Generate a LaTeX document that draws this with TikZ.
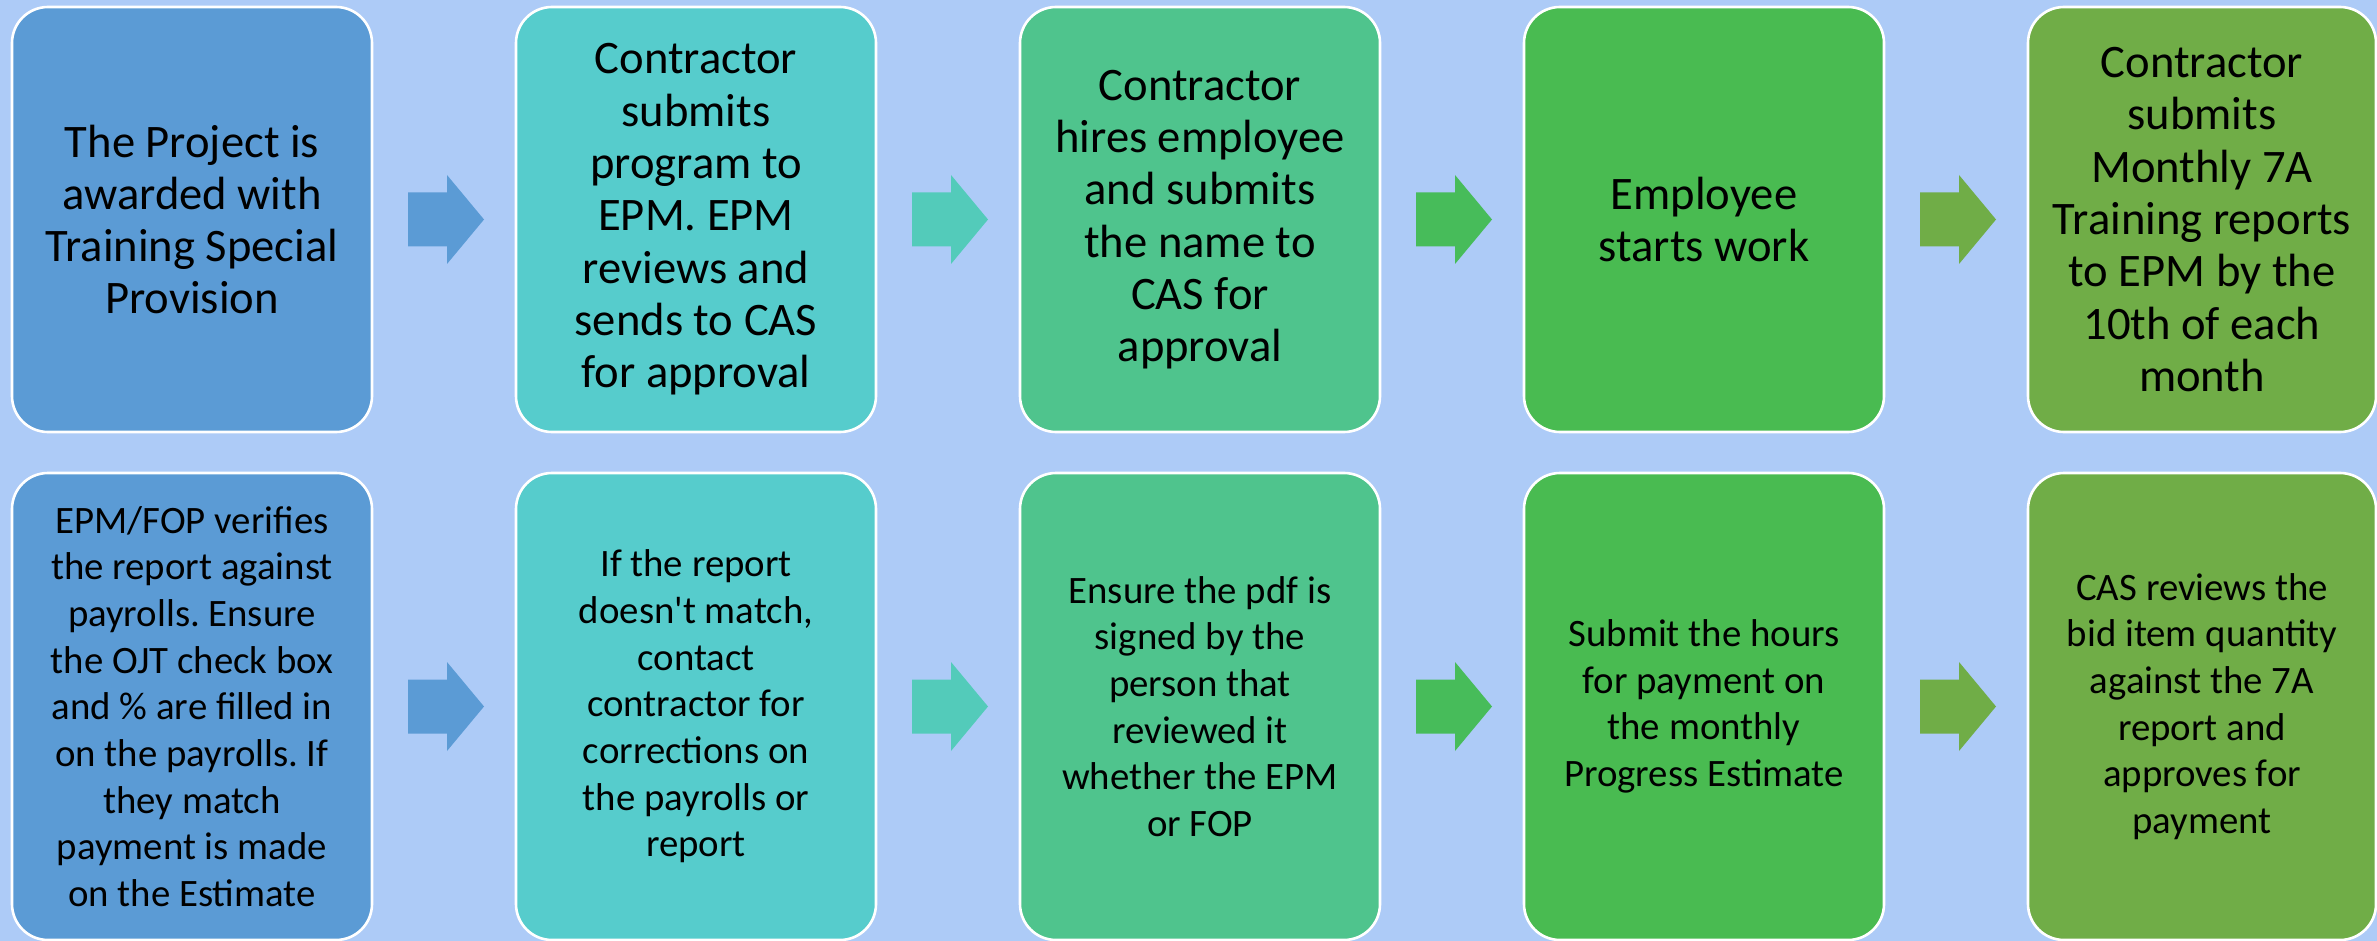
\documentclass[tikz,border=0pt]{standalone}
\usepackage{fontspec}
\setmainfont{Carlito}
\usetikzlibrary{calc}
\frenchspacing

\definecolor{bgblue}{HTML}{ADCBF7}
\definecolor{stepA}{HTML}{5B9BD5}
\definecolor{stepB}{HTML}{56CCCC}
\definecolor{stepC}{HTML}{4FC48D}
\definecolor{stepD}{HTML}{49BB51}
\definecolor{stepE}{HTML}{70AD47}
\definecolor{arrowB}{HTML}{53CBBA}
\definecolor{arrowC}{HTML}{47BC5A}

\tikzset{
  stepbox/.style={draw=white, line width=1.3pt, rounded corners=18pt,
    outer sep=0pt, inner sep=0pt, align=center, text=black,
    minimum width=180pt},
  toprow/.style={stepbox, minimum height=212.5pt,
    font=\fontsize{23.3pt}{26.15pt}\selectfont},
  botrow/.style={stepbox, minimum height=233.5pt,
    font=\fontsize{19.4pt}{23.35pt}\selectfont}
}

% block arrow drawn in the gap to the right of a box
\newcommand{\gaparrow}[2]{%
  \fill[#2] ($(#1.east)+(36,-27)$) -- ($(#1.east)+(75,-27)$)
    -- ($(#1.east)+(75,-44.5)$) -- ($(#1.east)+(112,0)$)
    -- ($(#1.east)+(75,44.5)$) -- ($(#1.east)+(75,27)$)
    -- ($(#1.east)+(36,27)$) -- cycle;}

\begin{document}
\begin{tikzpicture}[x=0.5pt,y=-0.5pt]
  \fill[bgblue] (0,0) rectangle (2377,941);
  \useasboundingbox (0,0) rectangle (2377,941);

  % top row
  \node[toprow, fill=stepA] (t1) at (192,219.5)
    {The Project is\\awarded with\\Training Special\\Provision};
  \node[toprow, fill=stepB] (t2) at (696,219.5)
    {Contractor\\submits\\program to\\EPM. EPM\\reviews and\\sends to CAS\\for approval};
  \node[toprow, fill=stepC] (t3) at (1200,219.5)
    {Contractor\\hires employee\\and submits\\the name to\\CAS for\\approval};
  \node[toprow, fill=stepD] (t4) at (1704,219.5)
    {Employee\\starts work};
  \node[toprow, fill=stepE, minimum width=174pt] (t5) at (2202,219.5)
    {Contractor\\submits\\Monthly 7A\\Training reports\\to EPM by the\\10th of each\\month};

  % bottom row
  \node[botrow, fill=stepA] (b1) at (192,706.5)
    {EPM/FOP verifies\\the report against\\payrolls. Ensure\\the OJT check box\\and \% are filled in\\on the payrolls. If\\they match\\payment is made\\on the Estimate};
  \node[botrow, fill=stepB] (b2) at (696,706.5)
    {If the report\\doesn\textquotesingle t match,\\contact\\contractor for\\corrections on\\the payrolls or\\report};
  \node[botrow, fill=stepC] (b3) at (1200,706.5)
    {Ensure the pdf is\\signed by the\\person that\\reviewed it\\whether the EPM\\or FOP};
  \node[botrow, fill=stepD] (b4) at (1704,706.5)
    {Submit the hours\\for payment on\\the monthly\\Progress Estimate};
  \node[botrow, fill=stepE, minimum width=174pt] (b5) at (2202,706.5)
    {CAS reviews the\\bid item quantity\\against the 7A\\report and\\approves for\\payment};

  % arrows between the steps
  \gaparrow{t1}{stepA}
  \gaparrow{t2}{arrowB}
  \gaparrow{t3}{arrowC}
  \gaparrow{t4}{stepE}
  \gaparrow{b1}{stepA}
  \gaparrow{b2}{arrowB}
  \gaparrow{b3}{arrowC}
  \gaparrow{b4}{stepE}
\end{tikzpicture}
\end{document}
